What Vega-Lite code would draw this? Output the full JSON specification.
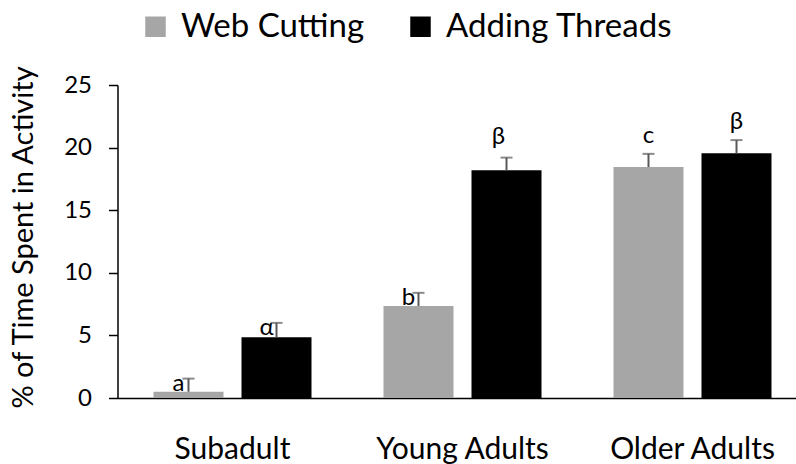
{
  "$schema": "https://vega.github.io/schema/vega-lite/v6.json",
  "autosize": "none",
  "width": 678.5,
  "height": 313,
  "padding": {"left": 117.5, "top": 85, "right": 0, "bottom": 66},
  "background": "white",
  "config": {
    "view": {"stroke": null},
    "font": "Lato",
    "text": {"font": "Lato"}
  },
  "data": {
    "values": [
      {"group": "Subadult", "series": "Web Cutting", "value": 0.5, "upper": 1.55, "letter": "a"},
      {"group": "Subadult", "series": "Adding Threads", "value": 4.85, "upper": 6.0, "letter": "α"},
      {"group": "Young Adults", "series": "Web Cutting", "value": 7.35, "upper": 8.4, "letter": "b"},
      {"group": "Young Adults", "series": "Adding Threads", "value": 18.2, "upper": 19.2, "letter": "β"},
      {"group": "Older Adults", "series": "Web Cutting", "value": 18.45, "upper": 19.5, "letter": "c"},
      {"group": "Older Adults", "series": "Adding Threads", "value": 19.55, "upper": 20.6, "letter": "β"}
    ]
  },
  "encoding": {
    "x": {
      "field": "group",
      "type": "nominal",
      "sort": ["Subadult", "Young Adults", "Older Adults"],
      "scale": {"range": [0, 690], "paddingInner": 0, "paddingOuter": 0},
      "axis": {
        "title": null,
        "ticks": false,
        "labelAngle": 0,
        "labelFont": "Lato",
        "labelFontSize": 30,
        "labelColor": "#000000",
        "labelPadding": 36,
        "labelLimit": 400,
        "domainColor": "#000000",
        "domainWidth": 1.5,
        "grid": false
      }
    },
    "xOffset": {
      "field": "series",
      "type": "nominal",
      "sort": ["Web Cutting", "Adding Threads"],
      "scale": {"paddingInner": 0.2045, "paddingOuter": 0.409}
    }
  },
  "layer": [
    {
      "mark": {"type": "bar", "strokeWidth": 0},
      "encoding": {
        "y": {
          "field": "value",
          "type": "quantitative",
          "scale": {"domain": [0, 25], "nice": false, "zero": true},
          "axis": {
            "title": "% of Time Spent in Activity",
            "titleFont": "Lato",
            "titleFontSize": 29,
            "titleFontWeight": "normal",
            "titleColor": "#000000",
            "titleX": -94.5,
            "titleY": 152,
            "titleAngle": -90,
            "titleAlign": "center",
            "titleBaseline": "middle",
            "titleLimit": 500,
            "values": [0, 5, 10, 15, 20, 25],
            "labelFont": "Lato",
            "labelFontSize": 24,
            "labelColor": "#000000",
            "labelPadding": 17,
            "tickSize": 9,
            "tickColor": "#000000",
            "tickWidth": 1.5,
            "domainColor": "#000000",
            "domainWidth": 1.5,
            "grid": false
          }
        },
        "color": {
          "field": "series",
          "type": "nominal",
          "scale": {"domain": ["Web Cutting", "Adding Threads"], "range": ["#A6A6A6", "#000000"]},
          "legend": {
            "title": null,
            "orient": "none",
            "direction": "horizontal",
            "legendX": 21.5,
            "legendY": -75,
            "padding": 0,
            "symbolType": "square",
            "symbolSize": 420,
            "symbolStrokeWidth": 0,
            "symbolOpacity": 1,
            "labelFont": "Lato",
            "labelFontSize": 33,
            "labelColor": "#000000",
            "labelOffset": 9,
            "labelLimit": 400,
            "columnPadding": 39
          }
        }
      }
    },
    {
      "mark": {"type": "rule", "color": "#595959", "strokeWidth": 2},
      "encoding": {
        "y": {"field": "value", "type": "quantitative"},
        "y2": {"field": "upper"}
      }
    },
    {
      "mark": {"type": "tick", "color": "#595959", "size": 12, "thickness": 2, "orient": "horizontal"},
      "encoding": {
        "y": {"field": "upper", "type": "quantitative"}
      }
    },
    {
      "transform": [{"filter": "datum.group == 'Subadult' || (datum.group == 'Young Adults' && datum.series == 'Web Cutting')"}],
      "mark": {"type": "text", "font": "Lato", "fontSize": 24, "color": "#000000", "dx": -10, "dy": 5, "baseline": "middle"},
      "encoding": {
        "y": {"field": "upper", "type": "quantitative"},
        "text": {"field": "letter"}
      }
    },
    {
      "transform": [{"filter": "datum.group == 'Young Adults' && datum.series == 'Adding Threads'"}],
      "mark": {"type": "text", "font": "Lato", "fontSize": 24, "color": "#000000", "dx": -8, "dy": -21, "baseline": "middle"},
      "encoding": {
        "y": {"field": "upper", "type": "quantitative"},
        "text": {"field": "letter"}
      }
    },
    {
      "transform": [{"filter": "datum.group == 'Older Adults'"}],
      "mark": {"type": "text", "font": "Lato", "fontSize": 24, "color": "#000000", "dx": 0, "dy": -18, "baseline": "middle"},
      "encoding": {
        "y": {"field": "upper", "type": "quantitative"},
        "text": {"field": "letter"}
      }
    }
  ]
}
